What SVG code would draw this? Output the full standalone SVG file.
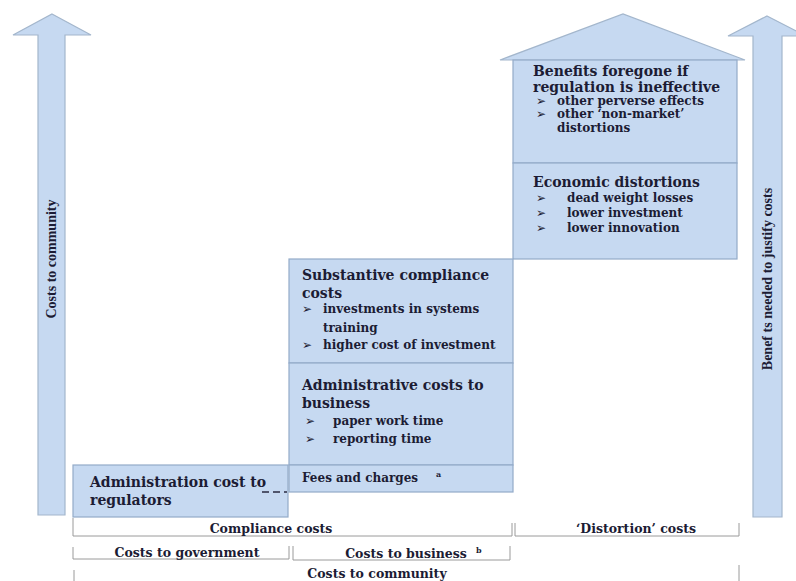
<svg xmlns="http://www.w3.org/2000/svg" width="796" height="581" viewBox="0 0 796 581">
<style>
.bx{fill:#c6d9f1;stroke:#93abc9;stroke-width:1.2}
.ar{fill:#c6d9f1;stroke:#a3b6cc;stroke-width:1.2}
.h{font-family:"DejaVu Serif","Liberation Serif",serif;font-weight:bold;font-size:14px;fill:#1c1c34}
.i{font-family:"DejaVu Serif","Liberation Serif",serif;font-weight:bold;font-size:12px;fill:#1c1c34}
.b{font-family:"DejaVu Sans",sans-serif;font-size:12px;fill:#1c1c34}
.l{font-family:"DejaVu Serif","Liberation Serif",serif;font-weight:bold;font-size:12.5px;fill:#1c1c34}
.v{font-family:"Liberation Serif","DejaVu Serif",serif;font-weight:bold;font-size:14px;fill:#1c1c34}
.s{font-family:"DejaVu Serif","Liberation Serif",serif;font-weight:bold;font-size:8px;fill:#1c1c34}
.br{fill:none;stroke:#9a9a9a;stroke-width:1}
</style>
<rect width="796" height="581" fill="#ffffff"/>
<g id="arrow-costs">
<polygon class="ar" points="52,14 91,35 65,35 65,515 38,515 38,35 13,35"/>
<text class="v" transform="translate(56,259) rotate(-90)" text-anchor="middle">Costs to community</text>
</g>
<g id="arrow-benefits">
<polygon class="ar" points="767,16 806,36 782,36 782,517 753,517 753,36 728,36"/>
<text class="v" transform="translate(772,279) rotate(-90)" text-anchor="middle">Benef ts needed to justify costs</text>
</g>
<g id="roof">
<polygon class="ar" points="500,60 623,14 745,60"/>
</g>
<g id="benefits-foregone">
<rect class="bx" x="513" y="60" width="224" height="103"/>
<text class="h" x="533" y="76">Benefits foregone if</text>
<text class="h" x="533" y="92">regulation is ineffective</text>
<text class="b" x="536" y="105">➢</text><text class="i" x="557" y="105">other perverse effects</text>
<text class="b" x="536" y="118">➢</text><text class="i" x="557" y="118">other ‘non-market’</text>
<text class="i" x="557" y="132">distortions</text>
</g>
<g id="economic-distortions">
<rect class="bx" x="513" y="163" width="224" height="96"/>
<text class="h" x="533" y="187">Economic distortions</text>
<text class="b" x="536" y="202">➢</text><text class="i" x="567" y="202">dead weight losses</text>
<text class="b" x="536" y="217">➢</text><text class="i" x="567" y="217">lower investment</text>
<text class="b" x="536" y="232">➢</text><text class="i" x="567" y="232">lower innovation</text>
</g>
<g id="substantive">
<rect class="bx" x="289" y="259" width="224" height="104"/>
<text class="h" x="302" y="280">Substantive compliance</text>
<text class="h" x="302" y="298">costs</text>
<text class="b" x="302" y="313">➢</text><text class="i" x="323" y="313">investments in systems</text>
<text class="i" x="323" y="332">training</text>
<text class="b" x="302" y="349">➢</text><text class="i" x="323" y="349">higher cost of investment</text>
</g>
<g id="admin-business">
<rect class="bx" x="289" y="363" width="224" height="102"/>
<text class="h" x="302" y="390">Administrative costs to</text>
<text class="h" x="302" y="408">business</text>
<text class="b" x="305" y="425">➢</text><text class="i" x="333" y="425">paper work time</text>
<text class="b" x="305" y="443">➢</text><text class="i" x="333" y="443">reporting time</text>
</g>
<g id="fees">
<rect class="bx" x="289" y="465" width="224" height="27"/>
<text class="i" x="302" y="482">Fees and charges</text>
<text class="s" x="436" y="477">a</text>
</g>
<g id="admin-regulators">
<rect class="bx" x="73" y="465" width="215" height="52"/>
<text class="h" x="90" y="487">Administration cost to</text>
<text class="h" x="90" y="505">regulators</text>
<line x1="262" y1="492" x2="287" y2="492" stroke="#2a2a40" stroke-width="1.3" stroke-dasharray="7,4"/>
</g>
<g id="brackets">
<polyline class="br" points="73,518 73,536 512,536 512,523"/>
<polyline class="br" points="515,523 515,536 739,536 739,523"/>
<polyline class="br" points="73,547 73,559 289,559 289,546"/>
<polyline class="br" points="293,546 293,560 510,560 510,546"/>
<line class="br" x1="74" y1="570" x2="74" y2="581"/>
<line class="br" x1="739" y1="565" x2="739" y2="581"/>
<text class="l" x="271" y="533" text-anchor="middle">Compliance costs</text>
<text class="l" x="636" y="533" text-anchor="middle">‘Distortion’ costs</text>
<text class="l" x="187" y="557" text-anchor="middle">Costs to government</text>
<text class="l" x="406" y="558" text-anchor="middle">Costs to business</text>
<text class="s" x="476" y="553">b</text>
<text class="l" x="377" y="578" text-anchor="middle">Costs to community</text>
</g>
</svg>
